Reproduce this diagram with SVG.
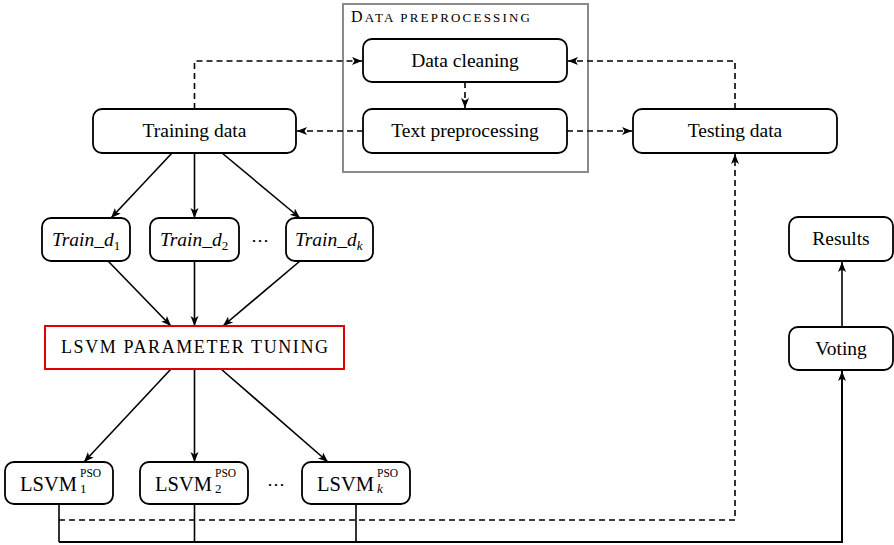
<svg xmlns="http://www.w3.org/2000/svg" width="894" height="545" viewBox="0 0 894 545">
<defs>
<marker id="ah" markerUnits="userSpaceOnUse" markerWidth="12" markerHeight="10" viewBox="0 -5 12 10" refX="10" refY="0" orient="auto">
<path d="M0,-4 L10,0 L0,4 L2.5,0 z" fill="#000"/>
</marker>
<style>
.node{fill:#fff;stroke:#000;stroke-width:1.8}
.t{font-family:"Liberation Serif","Times New Roman",serif;font-size:19.5px;fill:#000}
.it{font-style:italic}
.c{text-anchor:middle}
.solid{fill:none;stroke:#000;stroke-width:1.6}
.dash{fill:none;stroke:#000;stroke-width:1.6;stroke-dasharray:6,4}
.arr{marker-end:url(#ah)}
</style>
</defs>
<rect width="894" height="545" fill="#fff"/>

<g id="data-preprocessing">
<rect x="343" y="4" width="245" height="168" fill="none" stroke="#8a8a8a" stroke-width="2"/>
<text class="t" x="351" y="22" textLength="179" lengthAdjust="spacing" style="font-size:16px">D<tspan style="font-size:13px">ATA PREPROCESSING</tspan></text>
</g>

<g id="connectors">
<path class="dash arr" d="M194.5,109 V61 H362"/>
<path class="dash arr" d="M735,109 V61 H568"/>
<path class="dash arr" d="M465,82 V108"/>
<path class="dash arr" d="M363,131 H297"/>
<path class="dash arr" d="M567,131 H632"/>
<path class="solid arr" d="M172,153 L111,218"/>
<path class="solid arr" d="M194.5,153 V218"/>
<path class="solid arr" d="M222,153 L300,218"/>
<path class="solid arr" d="M108,261 L171,326"/>
<path class="solid arr" d="M194.5,261 V326"/>
<path class="solid arr" d="M300,261 L223,326"/>
<path class="solid arr" d="M171,369 L84,462"/>
<path class="solid arr" d="M194.5,369 V462"/>
<path class="solid arr" d="M221,369 L328,462"/>
<path class="solid" d="M59,504 V542 M194.5,504 V542 M356,504 V542"/>
<path class="dash arr" d="M59,520 H735 V154"/>
<path class="solid arr" d="M59,542 H842 V371" style="stroke-width:2"/>
<path class="solid arr" d="M842,327 V262"/>
</g>

<g id="data-cleaning">
<rect class="node" x="363" y="39" width="204" height="43" rx="9"/>
<text class="t c" x="465" y="67">Data cleaning</text>
</g>
<g id="text-preprocessing">
<rect class="node" x="363" y="109" width="204" height="44" rx="9"/>
<text class="t c" x="465" y="137">Text preprocessing</text>
</g>
<g id="training-data">
<rect class="node" x="93" y="109" width="203" height="44" rx="9"/>
<text class="t c" x="194.5" y="137">Training data</text>
</g>
<g id="testing-data">
<rect class="node" x="633" y="109" width="204" height="44" rx="9"/>
<text class="t c" x="735" y="137">Testing data</text>
</g>

<g id="train-d1">
<rect class="node" x="42" y="218" width="88" height="43" rx="9"/>
<text class="t it" x="52" y="246">Train_d<tspan style="font-style:normal;font-size:13px" dy="4">1</tspan></text>
</g>
<g id="train-d2">
<rect class="node" x="150" y="218" width="89" height="43" rx="9"/>
<text class="t it" x="160" y="246">Train_d<tspan style="font-style:normal;font-size:13px" dy="4">2</tspan></text>
</g>
<text class="t c" x="260" y="246" style="font-family:'DejaVu Serif',serif;font-size:18px">⋯</text>
<g id="train-dk">
<rect class="node" x="286" y="218" width="87" height="43" rx="9"/>
<text class="t it" x="295" y="246">Train_d<tspan style="font-size:13px" dy="4">k</tspan></text>
</g>

<g id="lsvm-tuning">
<rect x="45" y="326" width="299" height="43" fill="#fff" stroke="#e00000" stroke-width="2"/>
<text class="t" x="61" y="353" textLength="267" lengthAdjust="spacing" style="font-size:18px">LSVM PARAMETER TUNING</text>
</g>

<g id="lsvm1">
<rect class="node" x="5" y="462" width="108" height="42" rx="9"/>
<text class="t" x="20" y="491" style="font-size:20.5px">LSVM</text>
<text class="t" x="80" y="477" style="font-size:11.5px">PSO</text>
<text class="t" x="80" y="493" style="font-size:13px">1</text>
</g>
<g id="lsvm2">
<rect class="node" x="140" y="462" width="108" height="42" rx="9"/>
<text class="t" x="155" y="491" style="font-size:20.5px">LSVM</text>
<text class="t" x="215" y="477" style="font-size:11.5px">PSO</text>
<text class="t" x="215" y="493" style="font-size:13px">2</text>
</g>
<text class="t c" x="276" y="490" style="font-family:'DejaVu Serif',serif;font-size:18px">⋯</text>
<g id="lsvmk">
<rect class="node" x="302" y="462" width="108" height="42" rx="9"/>
<text class="t" x="317" y="491" style="font-size:20.5px">LSVM</text>
<text class="t" x="377" y="477" style="font-size:11.5px">PSO</text>
<text class="t it" x="377" y="493" style="font-size:13px">k</text>
</g>

<g id="results">
<rect class="node" x="789" y="217" width="104" height="44" rx="9"/>
<text class="t c" x="841" y="245">Results</text>
</g>
<g id="voting">
<rect class="node" x="789" y="327" width="104" height="43" rx="9"/>
<text class="t c" x="841" y="355">Voting</text>
</g>
</svg>
